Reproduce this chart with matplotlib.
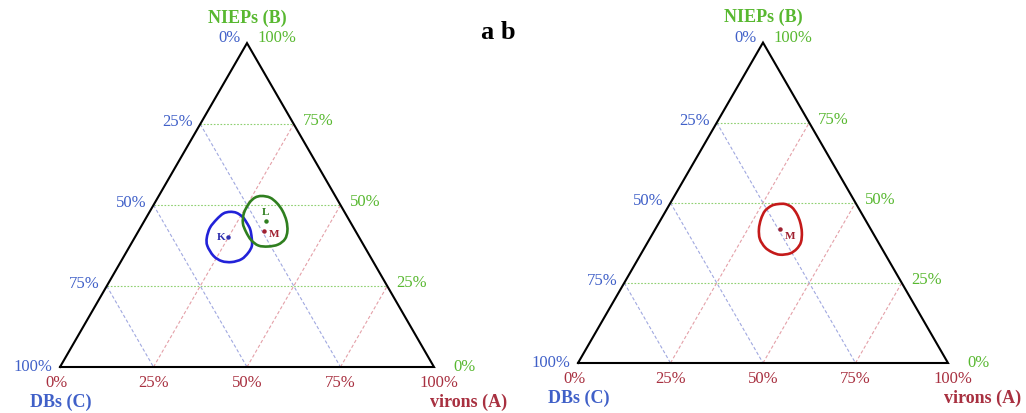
import numpy as np
import matplotlib
matplotlib.use("Agg")
import matplotlib.pyplot as plt
from matplotlib.path import Path
from matplotlib.patches import PathPatch

# ---------------- data (ternary fractions: A = virons, B = NIEPs) ----------------
grid_levels = [0.25, 0.5, 0.75]
pct_labels = ["0%", "25%", "50%", "75%", "100%"]
pct_values = [0.0, 0.25, 0.5, 0.75, 1.0]

K_contour_A = [0.215, 0.234, 0.257, 0.277, 0.296, 0.313, 0.326, 0.327, 0.319,
               0.297, 0.269, 0.239, 0.207, 0.193, 0.186, 0.191, 0.200]
K_contour_B = [0.479, 0.476, 0.463, 0.445, 0.425, 0.399, 0.374, 0.353, 0.333,
               0.324, 0.327, 0.343, 0.374, 0.399, 0.430, 0.456, 0.474]
L_contour_A = [0.275, 0.300, 0.327, 0.354, 0.380, 0.398, 0.404, 0.394, 0.370,
               0.343, 0.315, 0.289, 0.267, 0.254, 0.253, 0.260]
L_contour_B = [0.528, 0.523, 0.506, 0.482, 0.451, 0.420, 0.395, 0.378, 0.372,
               0.375, 0.392, 0.417, 0.444, 0.476, 0.507, 0.523]
M_contour_A = [0.293, 0.312, 0.335, 0.359, 0.381, 0.401, 0.414, 0.413, 0.402,
               0.377, 0.351, 0.325, 0.298, 0.280, 0.270, 0.268, 0.278]
M_contour_B = [0.496, 0.496, 0.486, 0.465, 0.439, 0.408, 0.377, 0.356, 0.342,
               0.338, 0.346, 0.361, 0.387, 0.418, 0.449, 0.475, 0.491]

K_point = (0.249, 0.401)
L_point = (0.325, 0.451)
M_point = (0.336, 0.419)

title_text = "a b"
axis_A = "virons (A)"
axis_B = "NIEPs (B)"
axis_C = "DBs (C)"

# ---------------- styling ----------------
SERIF = ["Liberation Serif", "DejaVu Serif"]
C_BLUE_TXT = "#4060c8"
C_GREEN_TXT = "#58b830"
C_RED_TXT = "#a83040"
C_GRID_G = "#8fd070"
C_GRID_B = "#a0a8e0"
C_GRID_R = "#e4a0a8"
H = np.sqrt(3) / 2


def tern(a, b):
    a = np.asarray(a, float)
    b = np.asarray(b, float)
    return a + b / 2.0, b * H


def smooth_closed(ax, A, B, color, lw):
    x, y = tern(A, B)
    P = np.column_stack([x, y])
    n = len(P)
    verts = [P[0]]
    codes = [Path.MOVETO]
    for i in range(n):
        p0, p1, p2, p3 = P[i - 1], P[i], P[(i + 1) % n], P[(i + 2) % n]
        c1 = p1 + (p2 - p0) / 6.0
        c2 = p2 - (p3 - p1) / 6.0
        verts += [c1, c2, p2]
        codes += [Path.CURVE4] * 3
    ax.add_patch(PathPatch(Path(verts, codes), fill=False, edgecolor=color,
                           lw=lw, joinstyle="round", zorder=5))


def px(dx, dy):
    # pixel offset -> points (dpi 100)
    return (dx * 0.72, dy * 0.72)


def draw_panel(ax, contours, points):
    ax.set_axis_off()
    for k in grid_levels:
        x, y = tern([0, 1 - k], [k, k])
        ax.plot(x, y, color=C_GRID_G, lw=0.8, ls=(0, (1.5, 1.5)), zorder=1)
        x, y = tern([0, 1 - k], [1 - k, 0])
        ax.plot(x, y, color=C_GRID_B, lw=0.8, ls=(0, (3, 2)), zorder=1)
        x, y = tern([k, k], [0, 1 - k])
        ax.plot(x, y, color=C_GRID_R, lw=0.8, ls=(0, (3, 2)), zorder=1)
    x, y = tern([0, 1, 0, 0], [0, 0, 1, 0])
    ax.plot(x, y, color="black", lw=1.5, solid_joinstyle="miter", zorder=3)

    fs = 12
    bdx = [-4, 0, 0, 0, 5]
    for v, lab, d in zip(pct_values, pct_labels, bdx):
        xx, yy = tern(v, 0)
        ax.annotate(lab, (xx, yy), xytext=px(d, -15), textcoords="offset points",
                    ha="center", va="center", fontsize=fs, color=C_RED_TXT, family=SERIF)
    for v, lab in zip(pct_values, pct_labels):
        xx, yy = tern(0, 1 - v)
        dy = 6 if v == 0 else (1 if v == 1 else 3)
        dx = -6 if v == 0 else (-8 if v == 1 else -7)
        ax.annotate(lab, (xx, yy), xytext=px(dx, dy), textcoords="offset points",
                    ha="right", va="center", fontsize=fs, color=C_BLUE_TXT, family=SERIF)
    for v, lab in zip(pct_values, pct_labels):
        xx, yy = tern(1 - v, v)
        if v == 0:
            dx, dy = 19, 1
        elif v == 1:
            dx, dy = 10, 6
        else:
            dx, dy = 9, 4
        ax.annotate(lab, (xx, yy), xytext=px(dx, dy), textcoords="offset points",
                    ha="left", va="center", fontsize=fs, color=C_GREEN_TXT, family=SERIF)
    xx, yy = tern(0, 1)
    ax.annotate(axis_B, (xx, yy), xytext=px(0, 26), textcoords="offset points",
                ha="center", va="center", fontsize=13, fontweight="bold",
                color=C_GREEN_TXT, family=SERIF)
    xx, yy = tern(0, 0)
    ax.annotate(axis_C, (xx, yy), xytext=px(1, -34), textcoords="offset points",
                ha="center", va="center", fontsize=13, fontweight="bold",
                color=C_BLUE_TXT, family=SERIF)
    xx, yy = tern(1, 0)
    ax.annotate(axis_A, (xx, yy), xytext=px(35, -34), textcoords="offset points",
                ha="center", va="center", fontsize=13, fontweight="bold",
                color=C_RED_TXT, family=SERIF)

    for (A, B, col) in contours:
        smooth_closed(ax, A, B, col, 1.9)
    for (pt, lab, col, off, ha) in points:
        xx, yy = tern(*pt)
        ax.plot([xx], [yy], "o", ms=2.2, color=col, zorder=6)
        ax.annotate(lab, (xx, yy), xytext=px(*off), textcoords="offset points",
                    ha=ha, va="center", fontsize=8, fontweight="bold",
                    color=col, family=SERIF, zorder=7)


fig = plt.figure(figsize=(10.26, 4.14), dpi=100)
fig.patch.set_facecolor("white")

# left panel: triangle base-left at pixel (60, 368), side 374 px
axL = fig.add_axes([0, 0, 0.5, 1])
axL.set_xlim((0 - 60) / 374, (513 - 60) / 374)
axL.set_ylim(-(414 - 368) / 374, 368 / 374)
draw_panel(axL,
           [(K_contour_A, K_contour_B, "#2222d8"),
            (L_contour_A, L_contour_B, "#2f7f1f")],
           [(K_point, "K", "#3030b0", (-3, 1), "right"),
            (L_point, "L", "#2f7f1f", (0, 9), "center"),
            (M_point, "M", "#a02030", (5, -2), "left")])

# right panel: triangle base-left at pixel (578, 364), side 370 px
axR = fig.add_axes([0.5, 0, 0.5, 1])
axR.set_xlim((513 - 578) / 370, (1026 - 578) / 370)
axR.set_ylim(-(414 - 364) / 370, 364 / 370)
draw_panel(axR,
           [(M_contour_A, M_contour_B, "#c41a1a")],
           [(M_point, "M", "#a02030", (5, -7), "left")])

fig.text(498 / 1026, 1 - 39 / 414, title_text, ha="center", va="baseline",
         fontsize=19, fontweight="bold", color="black", family=SERIF)

fig.savefig("out.png", dpi=100, facecolor="white")
